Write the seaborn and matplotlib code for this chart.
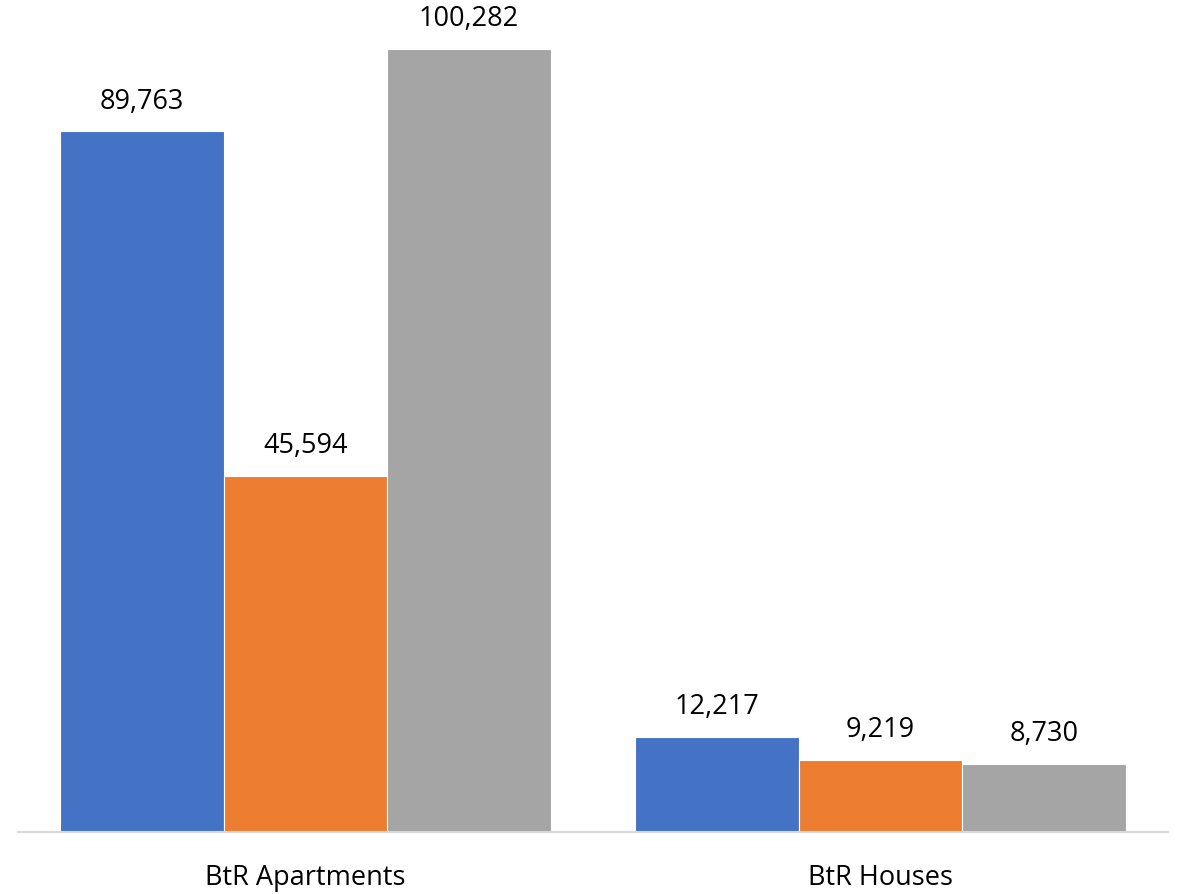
import pandas as pd
import matplotlib.pyplot as plt
import seaborn as sns

# --- Data ---
categories = ['BtR Apartments', 'BtR Houses']
series_names = ['Series 1', 'Series 2', 'Series 3']
series_1 = [89763, 12217]
series_2 = [45594, 9219]
series_3 = [100282, 8730]

rows = []
for name, values in zip(series_names, [series_1, series_2, series_3]):
    for cat, v in zip(categories, values):
        rows.append({'Category': cat, 'Series': name, 'Value': v})
df = pd.DataFrame(rows)

colors = ['#4472C4', '#ED7D31', '#A5A5A5']

# --- Plot ---
sns.set_style('white')
plt.rcParams['font.family'] = ['Open Sans', 'DejaVu Sans']

fig = plt.figure(figsize=(11.78, 8.95), dpi=100)
ax = fig.add_axes([18 / 1178, 62 / 895, 1150 / 1178, 833 / 895])

sns.barplot(data=df, x='Category', y='Value', hue='Series', order=categories,
            hue_order=series_names, palette=colors, saturation=1, width=0.853,
            edgecolor='white', linewidth=0.8, legend=False, ax=ax)

for container in ax.containers:
    ax.bar_label(container, labels=[f'{v:,.0f}' for v in container.datavalues],
                 padding=12, fontsize=19.5, color='black')

ax.set_xlim(-0.5, 1.5)
ax.set_ylim(0, 106700)
ax.set_xlabel(None)
ax.set_ylabel(None)
ax.set_yticks([])
ax.tick_params(axis='x', length=0, pad=22, labelsize=19.5, labelcolor='black')
for side in ['top', 'right', 'left']:
    ax.spines[side].set_visible(False)
ax.spines['bottom'].set_color('#D9D9D9')
ax.spines['bottom'].set_linewidth(1.5)

fig.savefig('out.png', dpi=100)
